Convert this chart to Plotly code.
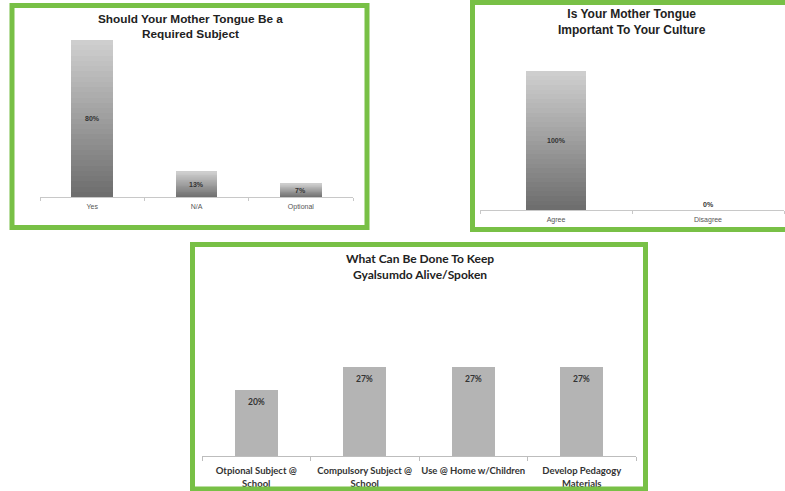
import plotly.graph_objects as go

# ---- data ----
c1_title = "Should Your Mother Tongue Be a<br>Required Subject"
c1_cats = ["Yes", "N/A", "Optional"]
c1_vals = [80, 13, 7]

c2_title = "Is Your Mother Tongue<br>Important To Your Culture"
c2_cats = ["Agree", "Disagree"]
c2_vals = [100, 0]

c3_title = "What Can Be Done To Keep<br>Gyalsumdo Alive/Spoken"
c3_cats = ["Otpional Subject @<br>School", "Compulsory Subject @<br>School",
           "Use @ Home w/Children", "Develop Pedagogy<br>Materials"]
c3_vals = [20, 27, 27, 27]

W, H = 785, 491
N_SEG = 30
DARK = (108, 108, 108)
LIGHT = (208, 208, 208)


def seg_color(k):
    t = (k + 0.5) / N_SEG
    r, g, b = [round(d + (l - d) * t) for d, l in zip(DARK, LIGHT)]
    return f"rgb({r},{g},{b})"


fig = go.Figure()

# gradient bars built as stacked slices of each bar's value
for xa, ya, cats, vals in [("x", "y", c1_cats, c1_vals), ("x2", "y2", c2_cats, c2_vals)]:
    for k in range(N_SEG):
        fig.add_trace(go.Bar(
            x=cats, y=[v / N_SEG for v in vals], xaxis=xa, yaxis=ya,
            marker=dict(color=seg_color(k), line=dict(width=0)),
            hoverinfo="skip", showlegend=False))

fig.add_trace(go.Bar(x=c3_cats, y=c3_vals, xaxis="x3", yaxis="y3",
                     marker=dict(color="#b4b4b4", line=dict(width=0)),
                     showlegend=False, hoverinfo="skip"))

annotations = []
for xr, yr, cats, vals in [("x", "y", c1_cats, c1_vals), ("x2", "y2", c2_cats, c2_vals)]:
    for c, v in zip(cats, vals):
        annotations.append(dict(
            x=c, y=v / 2 if v > 0 else 0, xref=xr, yref=yr,
            text=f"{v}%", showarrow=False,
            yanchor="middle" if v > 0 else "bottom",
            font=dict(family="Liberation Sans", size=7, color="#333", weight="bold")))
for c, v in zip(c3_cats, c3_vals):
    annotations.append(dict(
        x=c, y=v, xref="x3", yref="y3", text=f"{v}%", showarrow=False,
        yanchor="top", yshift=-5,
        font=dict(family="Lato", size=8.5, color="#333", weight="bold")))

# titles
annotations.append(dict(x=190 / W, y=1 - 27 / H, xref="paper", yref="paper", text=c1_title,
                        showarrow=False, yanchor="middle", xanchor="center",
                        font=dict(family="Liberation Sans", size=11.8, color="#222", weight="bold")))
annotations.append(dict(x=632 / W, y=1 - 22 / H, xref="paper", yref="paper", text=c2_title,
                        showarrow=False, yanchor="middle", xanchor="center",
                        font=dict(family="Liberation Sans", size=12, color="#222", weight="bold")))
annotations.append(dict(x=420 / W, y=1 - 266.5 / H, xref="paper", yref="paper", text=c3_title,
                        showarrow=False, yanchor="middle", xanchor="center",
                        font=dict(family="Lato", size=12, color="#222", weight="bold")))

green = "#78c046"
shapes = [
    dict(type="rect", xref="paper", yref="paper", x0=12 / W, x1=367 / W,
         y0=1 - 227.5 / H, y1=1 - 5.5 / H, line=dict(color=green, width=5)),
    dict(type="rect", xref="paper", yref="paper", x0=472.5 / W, x1=800 / W,
         y0=1 - 229.5 / H, y1=1 - 2.5 / H, line=dict(color=green, width=5)),
    dict(type="rect", xref="paper", yref="paper", x0=192.5 / W, x1=645.5 / W,
         y0=1 - 489 / H, y1=1 - 244.5 / H, line=dict(color=green, width=5)),
]

small_x = dict(type="category", showline=True, linecolor="#c8c8c8", linewidth=1,
               ticks="outside", tickson="boundaries", ticklen=3, tickcolor="#c8c8c8",
               tickangle=0, automargin=False, ticklabelstandoff=3,
               tickfont=dict(family="Liberation Sans", size=7, color="#555555"),
               showgrid=False, zeroline=False, fixedrange=True)

fig.update_layout(
    width=W, height=H, margin=dict(l=0, r=0, t=0, b=0, autoexpand=False),
    paper_bgcolor="white", plot_bgcolor="white",
    barmode="stack", bargap=0.6,
    xaxis=dict(domain=[40 / W, 353 / W], anchor="y", **small_x),
    yaxis=dict(domain=[1 - 197 / H, 1 - 40 / H], anchor="x", range=[0, 80], visible=False),
    xaxis2=dict(domain=[480 / W, 784 / W], anchor="y2", **small_x),
    yaxis2=dict(domain=[1 - 210 / H, 1 - 71 / H], anchor="x2", range=[0, 100], visible=False),
    xaxis3=dict(domain=[202 / W, 636 / W], anchor="y3", type="category", showline=True,
                linecolor="#bdbdbd", linewidth=1, ticks="outside", tickson="boundaries",
                ticklen=4, tickcolor="#bdbdbd", ticklabelstandoff=6, tickangle=0,
                automargin=False,
                tickfont=dict(family="Lato", size=9.5, color="#333333", weight="bold"),
                showgrid=False, zeroline=False),
    yaxis3=dict(domain=[1 - 456 / H, 1 - 357 / H], anchor="x3", range=[0, 30], visible=False),
    annotations=annotations, shapes=shapes,
)

fig.write_html("out.html")
